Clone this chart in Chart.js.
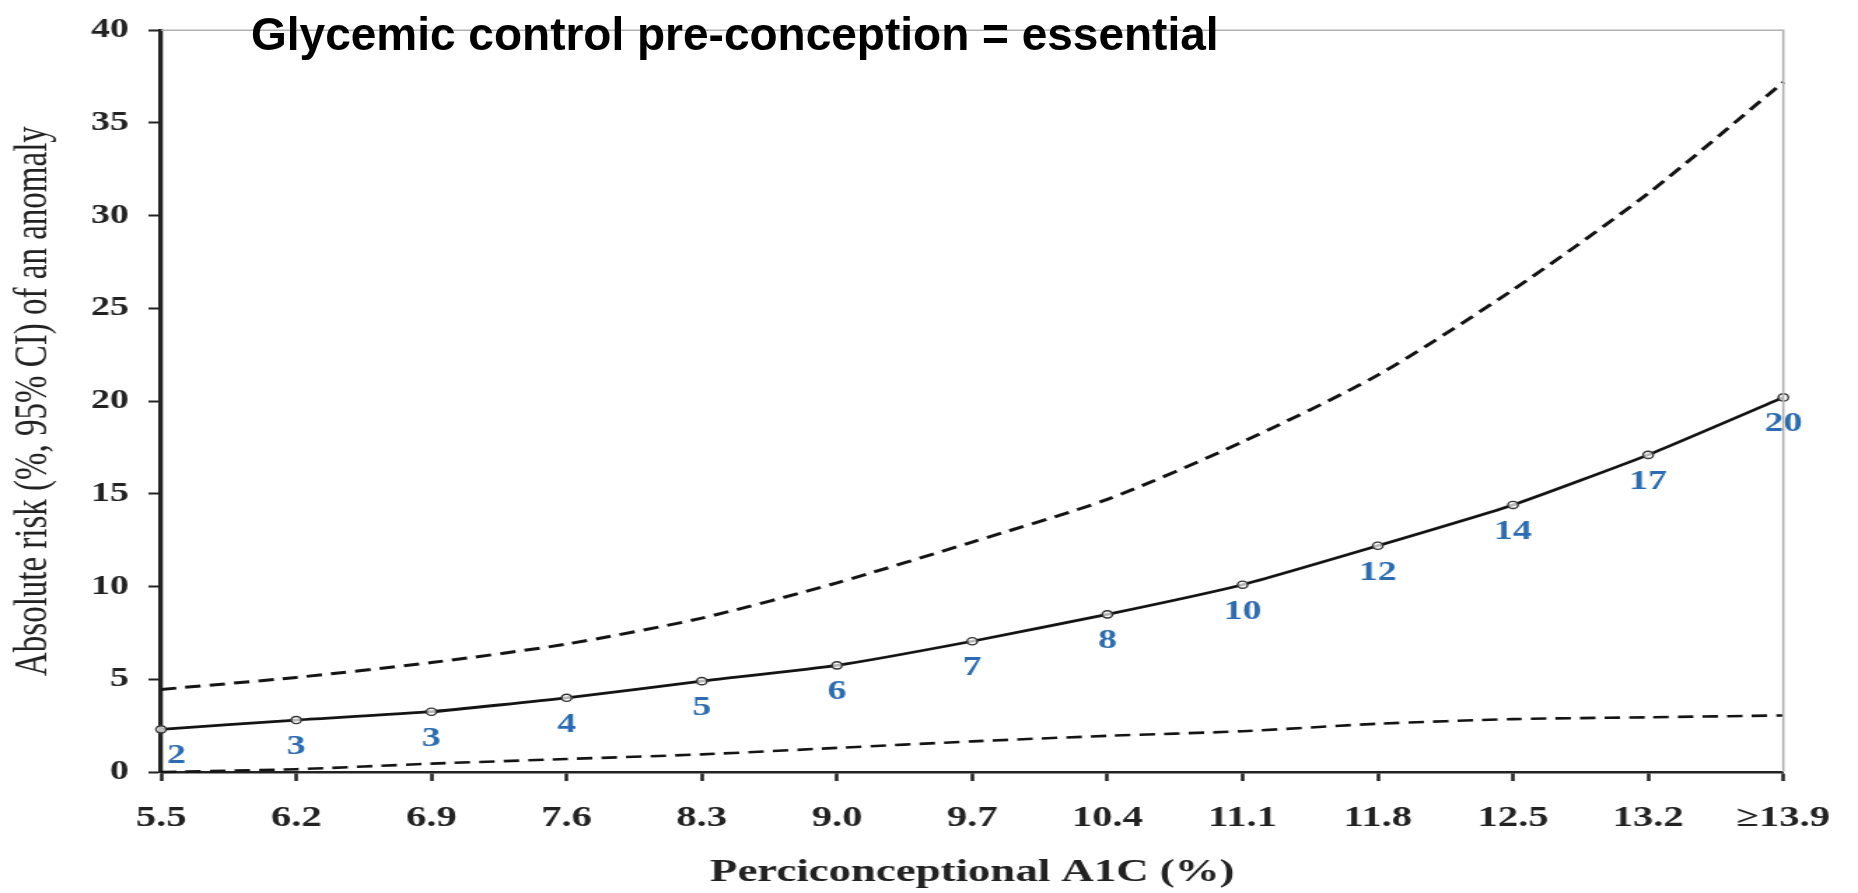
<!DOCTYPE html>
<html><head><meta charset="utf-8">
<script src="https://cdn.jsdelivr.net/npm/chart.js@4.4.1/dist/chart.umd.min.js"></script>
<style>
html,body{margin:0;padding:0;background:#fff;}
#wrap{position:relative;width:1858px;height:893px;overflow:hidden;background:#fff;}
#c{position:absolute;left:0;top:0;width:1858px !important;height:893px !important;}
#title{position:absolute;left:251px;top:11px;font:bold 46px "Liberation Sans",Arial,sans-serif;line-height:46px;color:#000;white-space:nowrap;}
</style></head><body>
<div id="wrap"><canvas id="c" width="1327" height="893" style="width:1858px;height:893px;"></canvas><div id="title">Glycemic control pre-conception = essential</div></div>
<script>
// Data
const a1cLabels = ['5.5','6.2','6.9','7.6','8.3','9.0','9.7','10.4','11.1','11.8','12.5','13.2','\u226513.9'];
const risk      = [2.3, 2.8, 3.25, 4.0, 4.9, 5.75, 7.05, 8.5, 10.1, 12.2, 14.4, 17.1, 20.2];
const upperCI   = [4.45, 5.1, 5.9, 6.9, 8.3, 10.2, 12.4, 14.7, 17.8, 21.4, 26.0, 31.2, 37.2];
const lowerCI   = [0.0, 0.15, 0.45, 0.7, 0.95, 1.3, 1.65, 1.95, 2.2, 2.6, 2.85, 2.95, 3.05];
const riskLabels = ['2','3','3','4','5','6','7','8','10','12','14','17','20'];
const yTicks = [0,5,10,15,20,25,30,35,40];

const serif = '"Liberation Serif", "Times New Roman", serif';

const overlay = {
  id: 'overlay',
  afterDatasetsDraw(chart) {
    const {ctx, chartArea: a, scales: {x, y}} = chart;
    ctx.save();
    ctx.font = 'bold 27px ' + serif;
    ctx.fillStyle = '#2b6cb3';
    ctx.textAlign = 'center';
    ctx.textBaseline = 'middle';
    riskLabels.forEach((t, i) => {
      let px = x.getPixelForValue(i);
      const py = y.getPixelForValue(risk[i]) + 27;
      if (i === 0) px += 11;
      ctx.fillText(t, px, py);
    });
    ctx.strokeStyle = '#b0b0b0';
    ctx.lineWidth = 1.6;
    ctx.beginPath();
    ctx.moveTo(a.left, a.top);
    ctx.lineTo(a.right, a.top);
    ctx.lineTo(a.right, a.bottom);
    ctx.stroke();
    ctx.restore();
  }
};

new Chart(document.getElementById('c'), {
  type: 'line',
  data: {
    labels: a1cLabels,
    datasets: [
      {
        label: 'Absolute risk',
        data: risk,
        borderColor: '#141414',
        borderWidth: 2.8,
        pointRadius: 3.6,
        pointStyle: 'circle',
        pointBackgroundColor: 'rgba(255,255,255,0.7)',
        pointBorderColor: '#333',
        pointBorderWidth: 1.4,
        tension: 0.15,
        clip: 6
      },
      {
        label: 'Upper 95% CI',
        data: upperCI,
        borderColor: '#141414',
        borderWidth: 3,
        borderDash: [11, 6.5],
        pointRadius: 0,
        tension: 0.25,
        clip: 6
      },
      {
        label: 'Lower 95% CI',
        data: lowerCI,
        borderColor: '#141414',
        borderWidth: 2.6,
        borderDash: [11, 6.5],
        pointRadius: 0,
        tension: 0.25,
        clip: 6
      }
    ]
  },
  options: {
    responsive: false,
    devicePixelRatio: 1,
    animation: false,
    events: [],
    layout: { padding: { left: 0, top: 22, right: 51, bottom: 0 } },
    plugins: { legend: { display: false }, tooltip: { enabled: false }, title: { display: false } },
    scales: {
      x: {
        type: 'category',
        offset: false,
        afterFit(s) { s.height = 121; },
        grid: { display: true, drawOnChartArea: false, drawTicks: true, tickLength: 9, tickColor: '#222', tickWidth: 2.5 },
        border: { display: true, color: '#222', width: 2.5 },
        ticks: { color: '#222', font: { family: serif, size: 29, weight: 'bold' }, padding: 20, maxRotation: 0, autoSkip: false },
        title: { display: true, text: 'Perciconceptional A1C (%)', color: '#222',
                 font: { family: serif, size: 32, weight: 'bold', lineHeight: 1 }, padding: { top: 0, bottom: 4 } }
      },
      y: {
        min: 0, max: 40,
        afterFit(s) { s.width = 115; },
        afterBuildTicks(s) { s.ticks = yTicks.map(v => ({ value: v })); },
        grid: { display: true, drawOnChartArea: false, drawTicks: true, tickLength: 9, tickColor: '#222', tickWidth: 2 },
        border: { display: true, color: '#222', width: 3.3 },
        ticks: { color: '#222', font: { family: serif, size: 27, weight: 'bold' }, padding: 14 },
        title: { display: true, text: 'Absolute risk (%, 95% CI) of an anomaly', color: '#222',
                 font: { family: serif, size: 33, weight: 'normal', lineHeight: 1 }, padding: { top: 8, bottom: 0 } }
      }
    }
  },
  plugins: [overlay]
});
</script>
</body></html>
